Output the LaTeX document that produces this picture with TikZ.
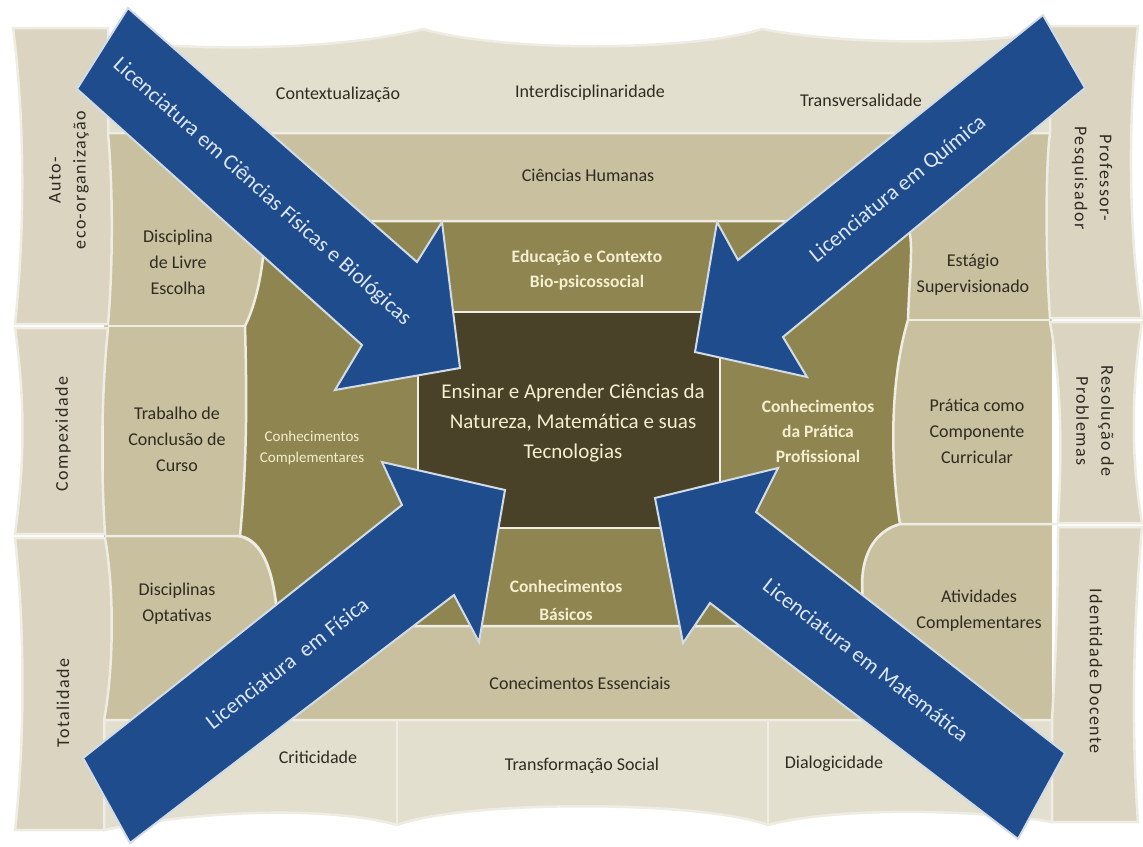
\documentclass[tikz,border=0pt]{standalone}
\usepackage{fontspec}
\setmainfont{Carlito}
\definecolor{bandA}{HTML}{E3DFCE}
\definecolor{colB}{HTML}{DAD4C0}
\definecolor{medC}{HTML}{C8C09E}
\definecolor{oliveC}{HTML}{8E8551}
\definecolor{darkC}{HTML}{4A4129}
\definecolor{blueC}{HTML}{1F4C8C}
\definecolor{blueEdge}{HTML}{D3DBE5}
\definecolor{sepC}{HTML}{EFECE3}
\definecolor{txtD}{HTML}{2F2B21}
\definecolor{txtC}{HTML}{F5EFCF}
\definecolor{txtB}{HTML}{DDE6F1}
\tikzset{
 sepline/.style={draw=sepC, line width=2.5pt},
 cellband/.style={fill=bandA, draw=sepC, line width=2.5pt},
 cellcol/.style={fill=colB, draw=sepC, line width=2.5pt},
 olivefill/.style={fill=oliveC, draw=sepC, line width=2.5pt},
 centerfill/.style={fill=darkC, draw=sepC, line width=2.5pt},
 bigarrow/.style={fill=blueC, draw=blueEdge, line width=2pt, line join=miter},
 lbl/.style={text=txtD, font=\fontsize{18}{26}\selectfont, align=center, inner sep=0pt},
 sidelbl/.style={text=txtD, font=\fontsize{18}{25}\selectfont\addfontfeature{LetterSpace=8}, align=center, inner sep=0pt},
 olivelbl/.style={text=txtC, font=\bfseries\fontsize{17.5}{25}\selectfont, align=center, inner sep=0pt},
 arrowlbl/.style={text=txtB, font=\fontsize{22}{26}\selectfont, inner sep=0pt},
 centerlbl/.style={text=txtC, font=\fontsize{21}{30}\selectfont, align=center, inner sep=0pt},
}
\begin{document}
\begin{tikzpicture}[x=1pt,y=-1pt]
\useasboundingbox (0,0) rectangle (1143,846);
\fill[white] (0,0) rectangle (1143,846);

% medium ring base
\fill[medC] (104,131) rectangle (1052,724);

% top band
\path[cellband] (108,133) -- (108,40) .. controls (200,52) and (340,50) .. (423,29) .. controls (500,52) and (690,52) .. (762,29) .. controls (850,46) and (980,44) .. (1050,32) -- (1050,133) -- cycle;

% bottom band
\path[cellband] (104,720) -- (1052,720) -- (1052,822) .. controls (980,810) and (840,806) .. (768,825) .. controls (700,800) and (465,800) .. (397,825) .. controls (330,806) and (200,810) .. (104,830) -- cycle;
\draw[sepline] (397,720) -- (397,825);
\draw[sepline] (768,720) -- (768,825);

% left column
\path[cellcol] (13,28) -- (108,28) -- (108,133) .. controls (114,200) and (112,280) .. (108,324) -- (15,324) .. controls (25,230) and (25,120) .. cycle;
\path[cellcol] (15,328) -- (108,328) .. controls (101,400) and (101,470) .. (105,534) -- (15,534) .. controls (25,460) and (25,400) .. cycle;
\path[cellcol] (15,538) -- (105,538) .. controls (116,600) and (112,680) .. (104,720) -- (104,830) -- (15,830) .. controls (25,740) and (25,630) .. cycle;

% right column
\path[cellcol] (1050,26) -- (1138,26) .. controls (1128,120) and (1128,230) .. (1142,318) -- (1050,318) .. controls (1045,250) and (1046,160) .. (1050,133) -- cycle;
\path[cellcol] (1050,322) -- (1142,322) .. controls (1131,390) and (1131,460) .. (1142,523) -- (1058,523) .. controls (1062,450) and (1062,390) .. cycle;
\path[cellcol] (1058,527) -- (1142,527) .. controls (1132,640) and (1132,740) .. (1138,822) -- (1052,822) -- (1052,720) .. controls (1056,650) and (1058,600) .. cycle;

% medium ring separators
\draw[sepline] (108,326) -- (245,326);
\draw[sepline] (105,536) -- (238,536) .. controls (262,540) and (275,570) .. (278,626) -- (280,720);
\draw[sepline] (906,320) -- (1050,320);
\draw[sepline] (1058,524) -- (900,524) .. controls (878,530) and (862,550) .. (862,585) -- (862,720);

% olive ring
\path[olivefill] (265,221) -- (905,221) .. controls (915,235) and (910,262) .. (908,320) .. controls (890,380) and (890,460) .. (900,524) .. controls (878,530) and (862,550) .. (862,585) -- (864,626) -- (278,626) .. controls (275,570) and (262,540) .. (240,536) .. controls (247,460) and (247,400) .. (245,326) .. controls (258,300) and (265,260) .. cycle;

% center
\path[centerfill] (418,312) rectangle (720,528);

% arrows
\path[bigarrow] (128,8) -- (417,262) -- (442,222) -- (460,368) -- (335,390) -- (362,345) -- (77,89) -- cycle;
\path[bigarrow] (1043,15) -- (738,260) -- (717,222) -- (695,352) -- (807,377) -- (783,337) -- (1085,88) -- cycle;
\path[bigarrow] (83,758) -- (402,505) -- (382,462) -- (505,490) -- (479,642) -- (454,595) -- (130,843) -- cycle;
\path[bigarrow] (1065,753) -- (756,512) -- (778,468) -- (655,498) -- (683,643) -- (710,603) -- (1018,839) -- cycle;

% outer labels
\node[sidelbl, rotate=90] (auto) at (69,180) {Auto-\\eco-organização};
\node[sidelbl, rotate=90] (compex) at (63,434) {Compexidade};
\node[sidelbl, rotate=90] (total) at (63,703) {Totalidade};
\node[sidelbl, rotate=-90] (profpesq) at (1092,178) {Professor-\\Pesquisador};
\node[sidelbl, rotate=-90] (resol) at (1095,421) {Resolução de\\Problemas};
\node[sidelbl, rotate=-90] (ident) at (1096,671) {Identidade Docente};

\node[lbl] (contex) at (338,95) {Contextualização};
\node[lbl] (inter) at (590,93) {Interdisciplinaridade};
\node[lbl] (transv) at (861,100) {Transversalidade};
\node[lbl] (critic) at (318,757) {Criticidade};
\node[lbl] (transf) at (582,766) {Transformação Social};
\node[lbl] (dialog) at (834,764) {Dialogicidade};

% medium ring labels
\node[lbl] (cienc) at (588,175) {Ciências Humanas};
\node[lbl] (livre) at (178,262) {Disciplina\\de Livre\\Escolha};
\node[lbl] (tcc) at (177,439) {Trabalho de\\Conclusão de\\Curso};
\node[lbl] (optat) at (177,604) {Disciplinas\\Optativas};
\node[lbl] (estag) at (973,275) {Estágio\\Supervisionado};
\node[lbl] (pcc) at (977,431) {Prática como\\Componente\\Curricular};
\node[lbl] (ativ) at (979,611) {Atividades\\Complementares};
\node[lbl] (essen) at (580,683) {Conecimentos Essenciais};

% olive ring labels
\node[olivelbl] (educ) at (587,270) {Educação e Contexto\\Bio-psicossocial};
\node[olivelbl, font=\fontsize{15}{21}\selectfont] (compl) at (312,448) {Conhecimentos\\Complementares};
\node[olivelbl] (pratica) at (818,431) {Conhecimentos\\da Prática\\Profissional};
\node[olivelbl, font=\bfseries\fontsize{17.5}{28}\selectfont] (basic) at (566,600) {Conhecimentos\\Básicos};

% center label
\node[centerlbl] (centro) at (573,423) {Ensinar e Aprender Ciências da\\Natureza, Matemática e suas\\Tecnologias};

% arrow labels
\node[arrowlbl, rotate=-41.6] (licbio) at (262,192) {Licenciatura em Ciências Físicas e Biológicas};
\node[arrowlbl, rotate=39.1] (licqui) at (898,189) {Licenciatura em Química};
\node[arrowlbl, rotate=37.9] (licfis) at (287,663) {Licenciatura\ \ em Física};
\node[arrowlbl, rotate=-37.7] (licmat) at (866,660) {Licenciatura em Matemática};
\end{tikzpicture}
\end{document}
